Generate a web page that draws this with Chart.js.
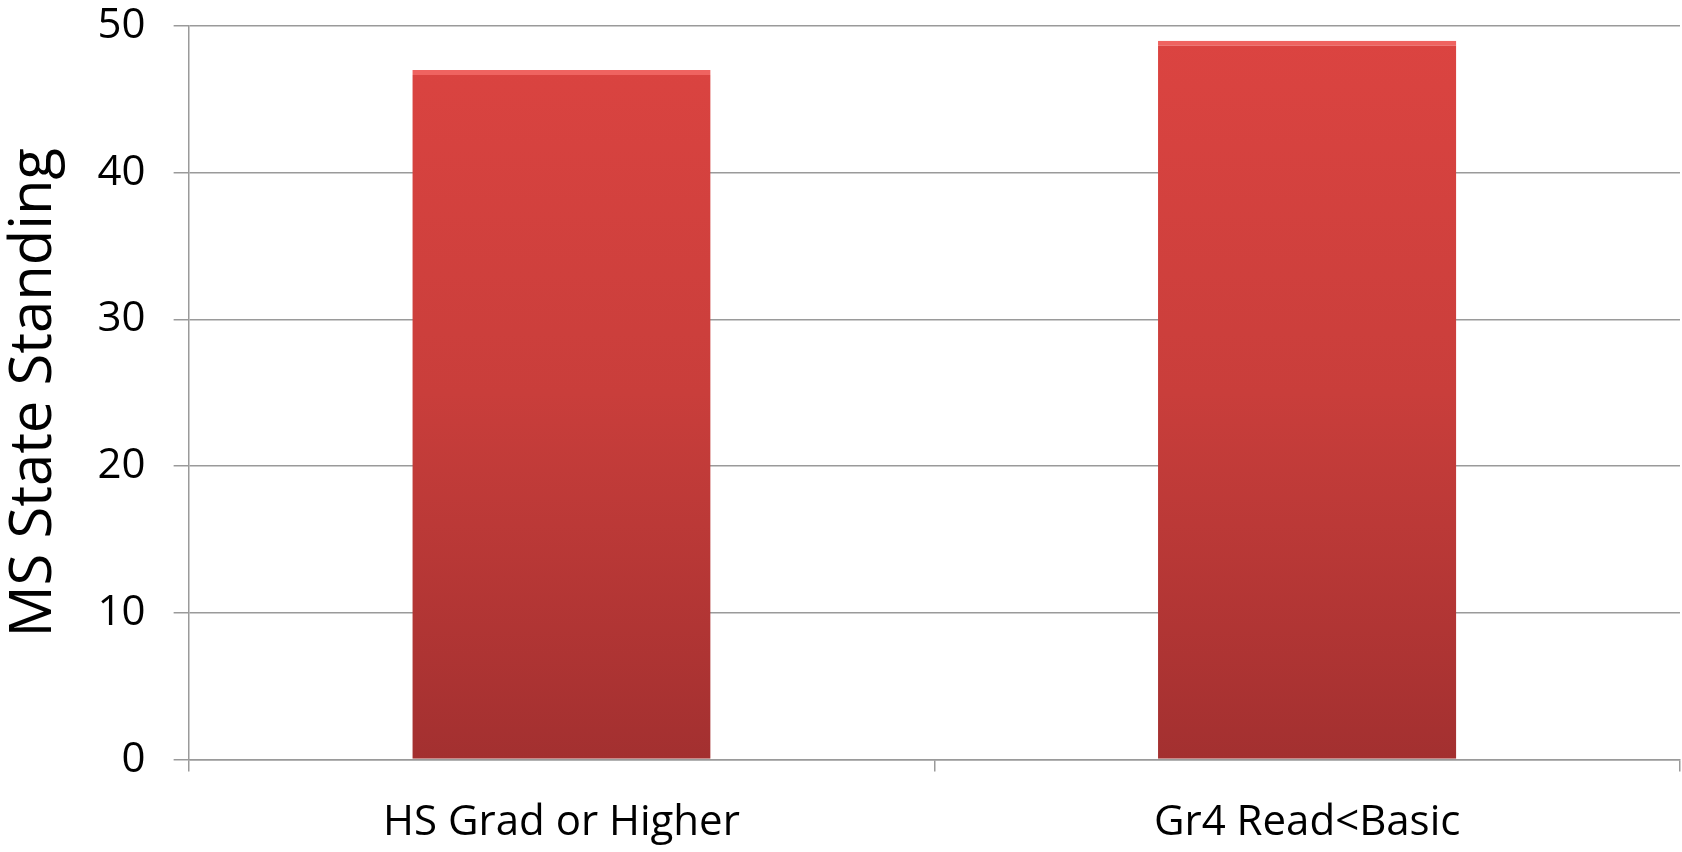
<!DOCTYPE html>
<html>
<head>
<meta charset="utf-8">
<script src="https://cdn.jsdelivr.net/npm/chart.js@4/dist/chart.umd.min.js"></script>
<style>
    html, body { margin: 0; padding: 0; background: #fff; }
    #wrap { width: 1682px; height: 852px; }
</style>
</head>
<body>
<div id="wrap"><canvas id="standing-chart" width="1682" height="852"></canvas></div>
<script>
const categories = ['HS Grad or Higher', 'Gr4 Read<Basic'];
const standing = [47, 49];
const yTicks = [0, 10, 20, 30, 40, 50];

const FONT = "'Open Sans', 'DejaVu Sans', sans-serif";

function barFill(context) {
    const chart = context.chart;
    const area = chart.chartArea;
    if (!area) return '#c23b38';
    const g = chart.ctx.createLinearGradient(0, area.top, 0, area.bottom);
    g.addColorStop(0, '#dc4441');
    g.addColorStop(0.5, '#c93e3b');
    g.addColorStop(1, '#a33030');
    return g;
}

const ctx = document.getElementById('standing-chart');

new Chart(ctx, {
    type: 'bar',
    data: {
        labels: categories,
        datasets: [{
            label: 'MS State Standing',
            data: standing,
            backgroundColor: barFill,
            borderColor: '#ef6360',
            borderWidth: { top: 5, left: 0, right: 0, bottom: 0 },
            borderSkipped: false,
            barPercentage: 0.4,
            categoryPercentage: 1.0
        }]
    },
    options: {
        responsive: false,
        animation: false,
        layout: {
            padding: { top: 26, right: 2, left: 0, bottom: -22 }
        },
        plugins: {
            legend: { display: false },
            tooltip: { enabled: false }
        },
        scales: {
            x: {
                grid: {
                    offset: true,
                    drawOnChartArea: false,
                    drawTicks: true,
                    tickLength: 12,
                    color: '#9a9a9a',
                    lineWidth: 1.5
                },
                border: { color: '#9a9a9a', width: 1.5 },
                ticks: {
                    color: '#000',
                    padding: 26,
                    font: { family: FONT, size: 42 }
                }
            },
            y: {
                min: 0,
                max: 50,
                afterBuildTicks: axis => {
                    axis.ticks = yTicks.map(v => ({ value: v }));
                },
                // tick padding also pads the top; the layout padding handles that instead
                afterFit: axis => {
                    axis.paddingTop = 0;
                },
                grid: {
                    color: '#9a9a9a',
                    lineWidth: 1.5,
                    tickLength: 15
                },
                border: { color: '#9a9a9a', width: 1.5 },
                ticks: {
                    color: '#000',
                    padding: 28,
                    font: { family: FONT, size: 42 }
                },
                title: {
                    display: true,
                    text: 'MS State Standing',
                    color: '#000',
                    padding: { top: 0, bottom: 0 },
                    font: { family: FONT, size: 58 }
                }
            }
        }
    }
});
</script>
</body>
</html>
